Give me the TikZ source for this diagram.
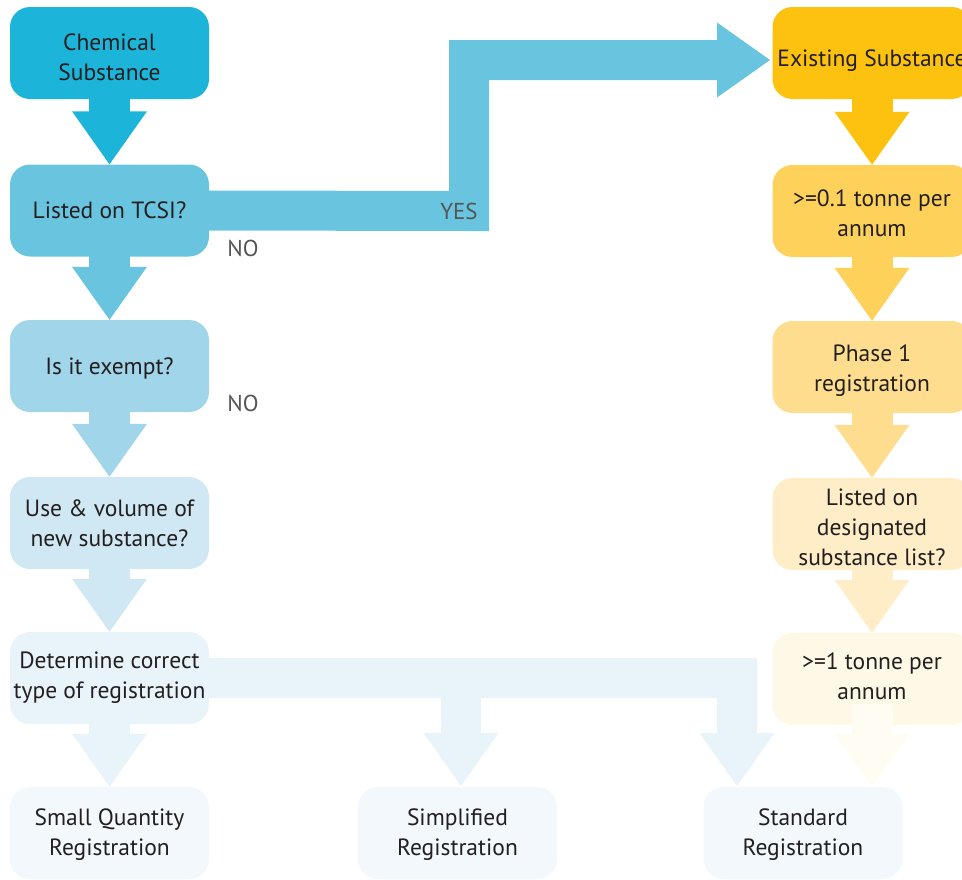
\documentclass[tikz,border=0pt]{standalone}
\usepackage{fontspec}
\setmainfont{PT Sans}
\usetikzlibrary{calc}
\definecolor{txt}{HTML}{231F20}
\definecolor{lbl}{HTML}{555555}
\definecolor{LA}{HTML}{1CB4D8}
\definecolor{LB}{HTML}{69C4E0}
\definecolor{LC}{HTML}{A1D5EA}
\definecolor{LD}{HTML}{CFE8F3}
\definecolor{LE}{HTML}{E8F4F9}
\definecolor{LF}{HTML}{F2F8FB}
\definecolor{RA}{HTML}{FDC20F}
\definecolor{RB}{HTML}{FED15A}
\definecolor{RC}{HTML}{FEDE8E}
\definecolor{RD}{HTML}{FEEDC6}
\definecolor{RE}{HTML}{FEF8E6}
\definecolor{RF}{HTML}{FFFCF3}
\newcommand{\vblock}[3]{%
  \fill[#3] ($(#1.south)+(-20.5,-1)$) rectangle ($(#1.south |- #2.north)+(20.5,-52.5)$);
  \fill[#3] ($(#1.south |- #2.north)+(-37.5,-53)$) -- ($(#1.south |- #2.north)+(37.5,-53)$) -- (#1.south |- #2.north) -- cycle;}
\begin{document}
\begin{tikzpicture}[x=1pt,y=-1pt,
  box/.style={rectangle, rounded corners=20pt, minimum width=199pt, minimum height=92pt,
    inner sep=0pt, align=center, text=txt, font=\fontsize{23.5}{30}\selectfont},
  lab/.style={text=lbl, inner sep=0pt, font=\fontsize{23}{28}\selectfont},
  band/.style={line width=40pt, miter limit=10}]
\useasboundingbox (0,0) rectangle (962,879);
% left column
\node[box, fill=LA, text height=55pt] (chem)   at (109.5,53)  {Chemical\\Substance};
\node[box, fill=LB] (tcsi)   at (109.5,210.5) {Listed on TCSI?};
\node[box, fill=LC, text height=21pt] (exempt) at (109.5,366) {Is it exempt?};
\node[box, fill=LD] (usevol) at (109.5,523) {Use \& volume of\\new substance?};
\node[box, fill=LE] (determ) at (109.5,678) {Determine correct\\type of registration};
\node[box, fill=LF, text height=49pt] (sqr)    at (109.5,833) {Small Quantity\\Registration};
\node[box, fill=LF, text height=49pt] (simp)   at (457.5,833) {Simplified\\Registration};
\node[box, fill=LF, text height=49pt] (std)    at (803,833)   {Standard\\Registration};
% right column
\node[box, fill=RA, text height=31pt] (exist)  at (872,53)  {Existing Substance};
\node[box, fill=RB, text height=51pt] (tza)    at (872,211) {>=0.1 tonne per\\annum};
\node[box, fill=RC, text height=53pt] (phase)  at (872,367) {Phase 1\\registration};
\node[box, fill=RD, text height=83pt] (desig)  at (872,524) {Listed on\\designated\\substance list?};
\node[box, fill=RE, text height=42pt] (tone)   at (872,679) {>=1 tonne per\\annum};
% vertical block arrows
\vblock{chem}{tcsi}{LA}
\vblock{tcsi}{exempt}{LB}
\vblock{exempt}{usevol}{LC}
\vblock{usevol}{determ}{LD}
\vblock{determ}{sqr}{LE}
\vblock{exist}{tza}{RA}
\vblock{tza}{phase}{RB}
\vblock{phase}{desig}{RC}
\vblock{desig}{tone}{RD}
% last pale yellow arrow
\coordinate (ftip) at (tone.south |- std.north);
\fill[RF] ($(tone.south)+(-20.5,-21)$) rectangle ($(ftip)+(20.5,-52.5)$);
\fill[RF] ($(ftip)+(-37.5,-53)$) -- ($(ftip)+(37.5,-53)$) -- (ftip) -- cycle;
% YES connector
\coordinate (y1) at (469,211);
\coordinate (y2) at (469,60);
\coordinate (y3) at (717,60);
\coordinate (ytip) at (770,60);
\draw[LB, band] (tcsi.east) -- (y1) -- (y2) -- (y3);
\fill[LB] ($(y3)+(0,-37.5)$) -- ($(y3)+(0,37.5)$) -- (ytip) -- cycle;
% determine connector
\coordinate (d1) at (737,678);
\coordinate (dstd) at (737,786);
\coordinate (dsim) at (461,786);
\draw[LE, band] (determ.east) -- (d1) -- ($(dstd)+(0,-52.5)$);
\draw[LE, line width=40pt] (461,677) -- ($(dsim)+(0,-52.5)$);
\fill[LE] ($(dstd)+(-37.5,-53)$) -- ($(dstd)+(37.5,-53)$) -- (dstd) -- cycle;
\fill[LE] ($(dsim)+(-37.5,-53)$) -- ($(dsim)+(37.5,-53)$) -- (dsim) -- cycle;
% labels
\node[lab] (yes) at (459,211) {YES};
\node[lab] (noa) at (243,248) {NO};
\node[lab] (nob) at (243,403) {NO};
\end{tikzpicture}
\end{document}
